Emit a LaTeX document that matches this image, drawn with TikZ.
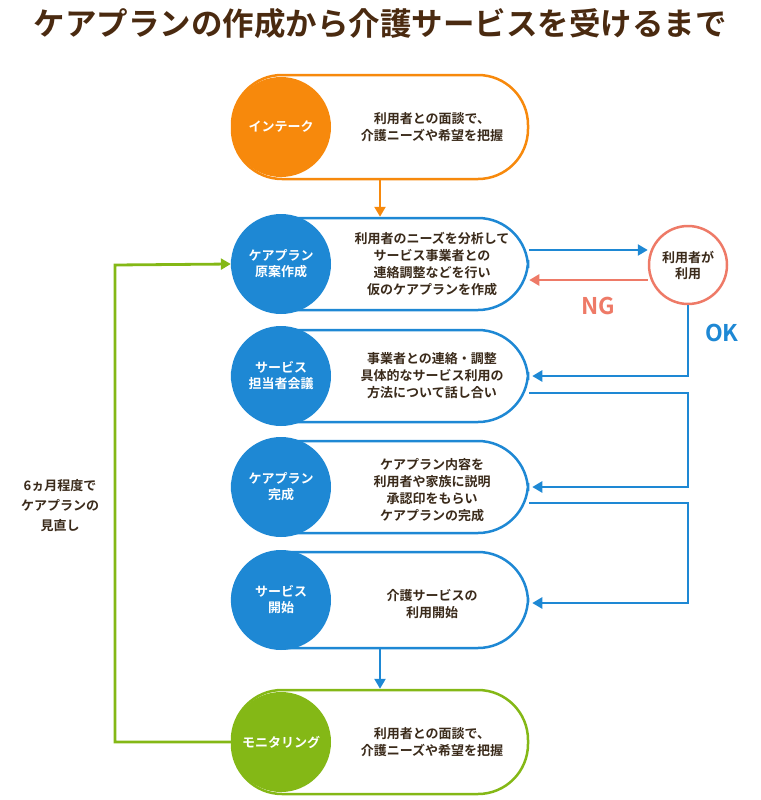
\documentclass[tikz,border=0pt]{standalone}
\usepackage{fontspec}
\setmainfont{Noto Sans CJK JP}[BoldFont={* Bold}]
\usetikzlibrary{arrows.meta}
\definecolor{brownT}{HTML}{4A2A10}
\definecolor{orangeC}{HTML}{F7890C}
\definecolor{blueC}{HTML}{1E88D4}
\definecolor{greenC}{HTML}{84B816}
\definecolor{coralC}{HTML}{EE7A67}
\definecolor{textC}{HTML}{3A2A1A}
\tikzset{
  pill/.style={draw=#1, line width=2.5pt, fill=white, rounded corners=50pt, minimum width=296pt, minimum height=104pt},
  step/.style={circle, fill=#1, minimum size=100pt, inner sep=0pt, text=white, font=\bfseries\fontsize{13}{16}\selectfont, align=center},
  desc/.style={text=textC, font=\bfseries\fontsize{13}{17}\selectfont, align=center},
  flow/.style={line width=2.8pt, -{Triangle[length=10pt,width=11pt]}}
}
\begin{document}
\begin{tikzpicture}[x=1pt,y=-1pt]
\useasboundingbox (0,0) rectangle (760,800);
\node[text=brownT, font=\bfseries\fontsize{31.5}{34}\selectfont] (title) at (380,24) {ケアプランの作成から介護サービスを受けるまで};

% steps
\node[pill=orangeC] (p1) at (380,127) {};
\node[step=orangeC] (c1) at (281,127) {インテーク};
\node[desc] (d1) at (432,127) {利用者との面談で、\\介護ニーズや希望を把握};

\node[pill=blueC, minimum height=92pt] (p2) at (380,264) {};
\node[step=blueC] (c2) at (281,264) {ケアプラン\\原案作成};
\node[desc] (d2) at (432,264) {利用者のニーズを分析して\\サービス事業者との\\連絡調整などを行い\\仮のケアプランを作成};

\node[pill=blueC, minimum height=92pt] (p3) at (380,376) {};
\node[step=blueC] (c3) at (281,376) {サービス\\担当者会議};
\node[desc] (d3) at (432,376) {事業者との連絡・調整\\具体的なサービス利用の\\方法について話し合い};

\node[pill=blueC, minimum height=92pt] (p4) at (380,487) {};
\node[step=blueC] (c4) at (281,487) {ケアプラン\\完成};
\node[desc] (d4) at (432,490) {ケアプラン内容を\\利用者や家族に説明\\承認印をもらい\\ケアプランの完成};

\node[pill=blueC, minimum height=96pt] (p5) at (380,600) {};
\node[step=blueC] (c5) at (281,600) {サービス\\開始};
\node[desc] (d5) at (432,604) {介護サービスの\\利用開始};

\node[pill=greenC] (p6) at (380,742) {};
\node[step=greenC] (c6) at (281,742) {モニタリング};
\node[desc] (d6) at (432,742) {利用者との面談で、\\介護ニーズや希望を把握};

\node[circle, draw=coralC, line width=2.5pt, fill=white, minimum size=78pt, inner sep=0pt, text=textC, font=\bfseries\fontsize{13}{16}\selectfont, align=center] (user) at (688,265) {利用者が\\利用};
\node[text=coralC, font=\bfseries\fontsize{23}{24}\selectfont] (ng) at (598,306) {NG};
\node[text=blueC, font=\bfseries\fontsize{23}{24}\selectfont] (ok) at (722,333) {OK};
\node[text=textC, font=\bfseries\fontsize{13}{20}\selectfont, align=center] (note) at (60,506) {6ヵ月程度で\\ケアプランの\\見直し};

\coordinate (r3) at (688,393);
\coordinate (r4) at (688,503);

% connectors
\draw[flow, orangeC] (p1.south) -- (p2.north);
\draw[flow, blueC] (p5.south) -- (p6.north);
\draw[flow, blueC] (p2.east |- 0,250) -- (user.west |- 0,250);
\draw[flow, coralC] (user.west |- 0,280) -- (p2.east |- 0,280);
\draw[flow, blueC] (user.south) -- (688,376) -- ([xshift=3pt]p3.east);
\draw[flow, blueC] (p3.east |- r3) -- (r3) -- (688,487) -- ([xshift=3pt]p4.east);
\draw[flow, blueC] (p4.east |- r4) -- (r4) -- (688,603) -- ([xshift=3pt]p5.east |- 0,603);
\draw[flow, greenC] (p6.west) -- (115,742) -- (115,265) -- (c2.west);
\end{tikzpicture}
\end{document}
